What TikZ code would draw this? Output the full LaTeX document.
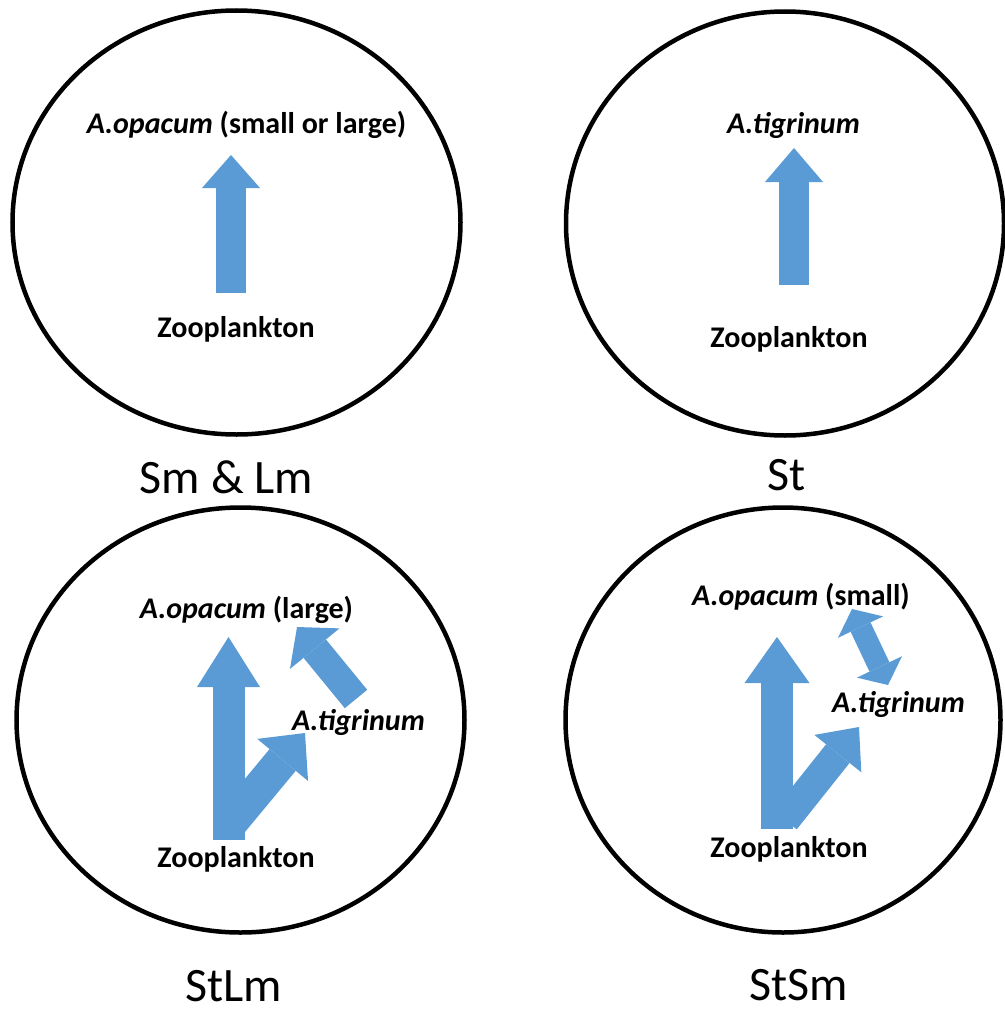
\documentclass[tikz,border=0pt]{standalone}
\usepackage{fontspec}
\setmainfont{Carlito}
\usepackage{tikz}
\usetikzlibrary{arrows.meta}

\definecolor{flowblue}{HTML}{5B9BD5}

\tikzset{
	pond/.style={draw=black, line width=4.5pt},
	species/.style={font=\fontsize{30}{35}\selectfont\bfseries, anchor=base, inner sep=0pt},
	panelname/.style={font=\fontsize{48}{56}\selectfont, anchor=base, inner sep=0pt},
	flow/.style n args={3}{draw=flowblue, line width=#1, -{Triangle[length=#2, width=#3, line width=0pt]}},
	flowboth/.style n args={3}{draw=flowblue, line width=#1, {Triangle[length=#2, width=#3, line width=0pt]}-{Triangle[length=#2, width=#3, line width=0pt]}}
}

\begin{document}
\begin{tikzpicture}[x=1pt, y=-1pt]
		\useasboundingbox (0,0) rectangle (1004,1009);
		
		% the four ponds
		\draw[pond] (236.5,222.5) ellipse [x radius=224pt, y radius=212pt];
		\draw[pond] (785,223.5) ellipse [x radius=219pt, y radius=212pt];
		\draw[pond] (240.5,720) ellipse [x radius=224pt, y radius=212.5pt];
		\draw[pond] (783,720) ellipse [x radius=217.5pt, y radius=212.5pt];
		
		% Sm & Lm
		\node[species] (op1) at (246.5,133) {\textit{A.opacum} (small or large)};
		\node[species] (zp1) at (236,337) {Zooplankton};
		\coordinate (z1) at (231,293);
		\coordinate (o1) at (231,155);
		\path [flow={30pt}{33pt}{58pt}] (z1) -- (o1);
		
		% St
		\node[species] (ti2) at (793.5,133) {\textit{A.tigrinum}};
		\node[species] (zp2) at (789,347) {Zooplankton};
		\coordinate (z2) at (794,285);
		\coordinate (t2) at (794,148);
		\path [flow={30pt}{34pt}{58pt}] (z2) -- (t2);
		
		% StLm
		\node[species] (op3) at (246.5,618) {\textit{A.opacum} (large)};
		\node[species] (ti3) at (358.5,730) {\textit{A.tigrinum}};
		\node[species] (zp3) at (236,867) {Zooplankton};
		\coordinate (z3) at (228.5,840);
		\coordinate (o3) at (228.5,637);
		\coordinate (z3b) at (232,821);
		\coordinate (t3) at (305,733);
		\coordinate (t3b) at (356,699);
		\coordinate (o3b) at (297,627);
		\path [flow={34pt}{35pt}{66pt}] (z3b) -- (t3);
		\path [flow={32pt}{50pt}{63pt}] (z3) -- (o3);
		\path [flow={29pt}{28pt}{64pt}] (t3b) -- (o3b);
		
		% StSm
		\node[species] (op4) at (801,605) {\textit{A.opacum} (small)};
		\node[species] (ti4) at (898.5,712) {\textit{A.tigrinum}};
		\node[species] (zp4) at (789,857) {Zooplankton};
		\coordinate (z4) at (777,829);
		\coordinate (o4) at (777,637);
		\coordinate (z4b) at (785,820);
		\coordinate (t4) at (859,727);
		\coordinate (o4b) at (852,609);
		\coordinate (t4b) at (888,685);
		\path [flow={30pt}{34pt}{60pt}] (z4b) -- (t4);
		\path [flow={32pt}{46pt}{65pt}] (z4) -- (o4);
		\path [flowboth={22pt}{20pt}{50pt}] (o4b) -- (t4b);
		
		% panel names
		\node[panelname] (smlm) at (226.5,493) {Sm \& Lm};
		\node[panelname] (st) at (786.5,490) {St};
		\node[panelname] (stlm) at (233.5,1001) {StLm};
		\node[panelname] (stsm) at (798.5,1000) {StSm};
	\end{tikzpicture}
\end{document}
